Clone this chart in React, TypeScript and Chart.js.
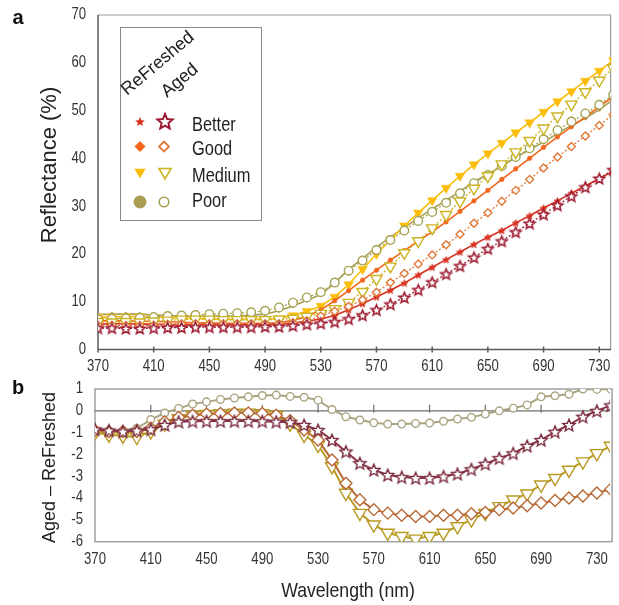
import React, { useEffect, useRef } from "react";
import { Chart, registerables } from "chart.js";

Chart.register(...registerables);

// ---------- data ----------
const wavelengths = [370, 380, 390, 400, 410, 420, 430, 440, 450, 460, 470, 480, 490, 500, 510, 520, 530, 540, 550, 560, 570, 580, 590, 600, 610, 620, 630, 640, 650, 660, 670, 680, 690, 700, 710, 720, 730, 740];

const refreshedBetter = [5.3, 5.4, 5.4, 5.3, 5.3, 5.2, 5.1, 5.2, 5.2, 5.2, 5.2, 5.2, 5.3, 5.3, 5.5, 5.9, 6.4, 7.1, 8.3, 9.6, 11.0, 12.4, 13.9, 15.6, 17.2, 18.8, 20.4, 22.0, 23.5, 24.9, 26.5, 28.0, 29.6, 31.1, 32.7, 34.2, 35.8, 37.3];
const agedBetter = [4.5, 4.5, 4.4, 4.4, 4.5, 4.6, 4.6, 4.7, 4.7, 4.7, 4.7, 4.7, 4.8, 4.8, 5.0, 5.3, 5.5, 5.8, 6.4, 7.2, 8.3, 9.5, 10.9, 12.5, 14.1, 15.8, 17.5, 19.3, 21.1, 22.7, 24.6, 26.4, 28.3, 30.2, 32.1, 34.0, 35.8, 37.6];
const refreshedGood = [6.0, 6.0, 6.0, 5.9, 5.9, 5.8, 5.7, 5.6, 5.6, 5.5, 5.5, 5.5, 5.5, 5.6, 6.1, 6.9, 8.3, 10.2, 12.3, 14.5, 16.6, 18.7, 20.7, 22.7, 24.6, 26.7, 28.9, 31.1, 33.3, 35.6, 37.8, 40.0, 42.3, 44.5, 46.6, 48.7, 50.8, 52.9];
const agedGood = [5.1, 5.1, 5.0, 5.0, 5.1, 5.3, 5.4, 5.4, 5.4, 5.4, 5.4, 5.4, 5.4, 5.4, 5.6, 6.0, 7.0, 8.0, 9.0, 10.4, 12.0, 14.0, 15.9, 17.9, 19.8, 21.9, 24.1, 26.4, 28.6, 31.0, 33.3, 35.6, 38.0, 40.3, 42.5, 44.7, 46.9, 49.2];
const refreshedMedium = [6.8, 6.8, 6.9, 6.9, 6.8, 6.7, 6.6, 6.5, 6.4, 6.3, 6.3, 6.3, 6.3, 6.5, 7.1, 8.0, 9.1, 11.0, 13.6, 16.8, 20.0, 23.0, 25.9, 28.6, 31.2, 33.8, 36.3, 38.7, 41.0, 43.2, 45.4, 47.5, 49.7, 51.9, 54.0, 56.2, 58.3, 60.5];
const agedMedium = [5.8, 5.7, 5.8, 5.7, 5.9, 6.1, 6.3, 6.3, 6.3, 6.2, 6.2, 6.2, 6.2, 6.3, 6.5, 6.9, 7.5, 8.5, 9.8, 12.1, 14.8, 17.4, 20.2, 22.7, 25.4, 28.2, 31.0, 33.7, 36.3, 38.8, 41.3, 43.7, 46.3, 48.8, 51.3, 53.9, 56.3, 58.9];
const refreshedPoor = [7.3, 7.4, 7.4, 7.4, 7.2, 7.1, 7.0, 6.9, 7.0, 7.0, 7.0, 7.2, 7.4, 8.1, 9.1, 10.3, 11.5, 13.9, 16.8, 19.0, 21.4, 23.5, 25.5, 27.5, 29.4, 31.2, 33.1, 35.1, 36.7, 38.4, 40.2, 41.8, 43.4, 45.2, 46.9, 48.4, 50.2, 52.3];
const agedPoor = [6.3, 6.4, 6.5, 6.6, 6.8, 7.0, 7.1, 7.2, 7.4, 7.5, 7.6, 7.8, 8.1, 8.8, 9.8, 10.9, 12.0, 14.0, 16.5, 18.6, 20.8, 22.9, 24.9, 26.9, 28.8, 30.7, 32.7, 34.8, 36.5, 38.4, 40.3, 42.1, 44.0, 45.9, 47.7, 49.4, 51.2, 53.3];

const diffBetter = [-0.85, -0.9, -0.95, -0.9, -0.85, -0.65, -0.5, -0.48, -0.47, -0.47, -0.47, -0.47, -0.48, -0.5, -0.52, -0.65, -0.88, -1.34, -1.87, -2.4, -2.71, -2.94, -3.04, -3.08, -3.08, -3.01, -2.89, -2.68, -2.43, -2.17, -1.95, -1.61, -1.34, -0.96, -0.65, -0.27, 0, 0.25];
const diffGood = [-0.9, -0.95, -0.95, -0.95, -0.8, -0.5, -0.3, -0.2, -0.15, -0.12, -0.1, -0.1, -0.12, -0.2, -0.45, -0.88, -1.34, -2.25, -3.32, -4.08, -4.53, -4.69, -4.79, -4.84, -4.84, -4.79, -4.79, -4.72, -4.66, -4.53, -4.46, -4.35, -4.23, -4.11, -4.0, -3.9, -3.77, -3.59];
const diffMedium = [-1.0, -1.1, -1.15, -1.2, -0.95, -0.6, -0.35, -0.2, -0.15, -0.12, -0.1, -0.1, -0.12, -0.2, -0.6, -1.11, -1.57, -2.55, -3.77, -4.69, -5.22, -5.6, -5.75, -5.87, -5.75, -5.6, -5.3, -4.99, -4.69, -4.38, -4.08, -3.8, -3.39, -3.09, -2.71, -2.33, -1.95, -1.61];
const diffPoor = [-1.0, -0.95, -0.9, -0.8, -0.4, -0.1, 0.11, 0.31, 0.41, 0.52, 0.59, 0.64, 0.7, 0.72, 0.66, 0.62, 0.49, 0.06, -0.27, -0.42, -0.55, -0.61, -0.61, -0.58, -0.56, -0.48, -0.38, -0.3, -0.15, 0, 0.12, 0.27, 0.64, 0.69, 0.76, 1.0, 0.98, 1.0];

const xTicks = [370, 410, 450, 490, 530, 570, 610, 650, 690, 730];
const yTicksTop = [0, 10, 20, 30, 40, 50, 60, 70];
const yTicksBottom = [1, 0, -1, -2, -3, -4, -5, -6];
const legendRows = ["Better", "Good", "Medium", "Poor"];
const legendHeads = ["ReFreshed", "Aged"];
const titleTopY = "Reflectance (%)";
const titleBottomY = "Aged \u2013 ReFreshed";
const titleX = "Wavelength (nm)";

// ---------- styles ----------
const SANS = '"Liberation Sans", Arial, sans-serif';
const NARROW_SCALE = 0.82;

const C = {
  rBetter: "#d8301f",
  aBetter: "#9e1a30",
  rGood: "#f4661c",
  aGood: "#e07838",
  rMedium: "#fbbd0a",
  aMedium: "#ccb322",
  rPoor: "#aa9e55",
  aPoor: "#a6a352",
  bBetter: "#8a3446",
  bBetterPt: "#7a2a3e",
  bGood: "#b86a36",
  bMedium: "#b89a22",
  bPoor: "#aaa480",
};

function narrowText(ctx: CanvasRenderingContext2D, text: string, x: number, y: number, size: number, align: CanvasTextAlign, sx = NARROW_SCALE, color = "#333") {
  ctx.save();
  ctx.translate(x, y);
  ctx.scale(sx, 1);
  ctx.font = `${size}px ${SANS}`;
  ctx.fillStyle = color;
  ctx.textAlign = align;
  ctx.textBaseline = "middle";
  ctx.fillText(text, 0, 0);
  ctx.restore();
}

function starPath(ctx: CanvasRenderingContext2D, cx: number, cy: number, outer: number, ratio: number) {
  const inner = outer * ratio;
  for (let i = 0; i < 10; i++) {
    const r = i % 2 === 0 ? outer : inner;
    const a = -Math.PI / 2 + (i * Math.PI) / 5;
    const px = cx + r * Math.cos(a);
    const py = cy + r * Math.sin(a);
    if (i === 0) ctx.moveTo(px, py);
    else ctx.lineTo(px, py);
  }
  ctx.closePath();
}

function makeStar(outer: number, fill: string, stroke: string, lw: number): HTMLCanvasElement {
  const size = Math.ceil(outer * 2 + lw * 2 + 4);
  const c = document.createElement("canvas");
  c.width = size;
  c.height = size;
  const ctx = c.getContext("2d")!;
  ctx.beginPath();
  starPath(ctx, size / 2, size / 2 + outer * 0.1, outer, 0.45);
  if (fill) {
    ctx.fillStyle = fill;
    ctx.fill();
  }
  if (stroke) {
    ctx.strokeStyle = stroke;
    ctx.lineWidth = lw;
    ctx.lineJoin = "miter";
    ctx.stroke();
  }
  return c;
}

function shape(ctx: CanvasRenderingContext2D, kind: string, x: number, y: number, r: number, fill: string | null, stroke: string | null, lw: number) {
  ctx.beginPath();
  if (kind === "star") starPath(ctx, x, y, r, 0.45);
  else if (kind === "diamond") {
    ctx.moveTo(x, y - r);
    ctx.lineTo(x + r, y);
    ctx.lineTo(x, y + r);
    ctx.lineTo(x - r, y);
    ctx.closePath();
  } else if (kind === "tri") {
    ctx.moveTo(x - r * 0.866, y - r * 0.5);
    ctx.lineTo(x + r * 0.866, y - r * 0.5);
    ctx.lineTo(x, y + r);
    ctx.closePath();
  } else ctx.arc(x, y, r, 0, Math.PI * 2);
  if (fill) {
    ctx.fillStyle = fill;
    ctx.fill();
  }
  if (stroke) {
    ctx.strokeStyle = stroke;
    ctx.lineWidth = lw;
    ctx.stroke();
  }
}

const pts = (arr: number[]) => wavelengths.map((w, i) => ({ x: w, y: arr[i] }));

function drawTickLabels(chart: any, yTicks: number[], xOffset: number) {
  const { ctx, chartArea: a, scales } = chart;
  xTicks.forEach((v) => narrowText(ctx, String(v), scales.x.getPixelForValue(v), a.bottom + xOffset, 16, "center"));
  yTicks.forEach((v) => narrowText(ctx, String(v), a.left - 12, scales.y.getPixelForValue(v), 16, "right"));
}

const topDecor = {
  id: "topDecor",
  beforeDatasetsDraw(chart: any) {
    const { ctx, chartArea: a, scales } = chart;
    ctx.save();
    ctx.strokeStyle = "#9c9c9c";
    ctx.lineWidth = 1.2;
    ctx.beginPath();
    ctx.moveTo(a.left, a.top);
    ctx.lineTo(a.right - 0.5, a.top);
    ctx.lineTo(a.right - 0.5, a.bottom);
    ctx.stroke();
    ctx.strokeStyle = "#5a5a5a";
    ctx.lineWidth = 1.5;
    ctx.beginPath();
    ctx.moveTo(a.left, a.top);
    ctx.lineTo(a.left, a.bottom);
    ctx.lineTo(a.right, a.bottom);
    xTicks.forEach((v) => {
      const x = scales.x.getPixelForValue(v);
      ctx.moveTo(x, a.bottom - 3);
      ctx.lineTo(x, a.bottom + 3);
    });
    ctx.stroke();
    ctx.restore();
  },
  afterDraw(chart: any) {
    const { ctx } = chart;
    ctx.save();
    drawTickLabels(chart, yTicksTop, 17.5);
    // panel letter
    ctx.fillStyle = "#111";
    ctx.font = `bold 20px ${SANS}`;
    ctx.textAlign = "center";
    ctx.textBaseline = "middle";
    ctx.fillText("a", 18, 18);
    // y title
    ctx.save();
    ctx.translate(50, 165);
    ctx.rotate(-Math.PI / 2);
    ctx.font = `22px ${SANS}`;
    ctx.fillStyle = "#222";
    ctx.fillText(titleTopY, 0, 0);
    ctx.restore();
    // legend box
    ctx.fillStyle = "#fff";
    ctx.fillRect(120.5, 27.5, 141, 193);
    ctx.strokeStyle = "#8a8a8a";
    ctx.lineWidth = 1;
    ctx.strokeRect(120.5, 27.5, 141, 193);
    // rotated headers
    ctx.fillStyle = "#222";
    ctx.font = `18px ${SANS}`;
    ctx.textAlign = "left";
    ctx.textBaseline = "alphabetic";
    const heads = [
      [127, 96],
      [167, 98],
    ];
    legendHeads.forEach((t, i) => {
      ctx.save();
      ctx.translate(heads[i][0], heads[i][1]);
      ctx.rotate((-40 * Math.PI) / 180);
      ctx.fillText(t, 0, 0);
      ctx.restore();
    });
    // symbols
    const rowsY = [122, 146.5, 173, 202];
    shape(ctx, "star", 140, rowsY[0], 5, C.rBetter, null, 0);
    shape(ctx, "star", 165, rowsY[0], 8, "#fff", C.aBetter, 2);
    shape(ctx, "diamond", 140, rowsY[1], 5.5, C.rGood, null, 0);
    shape(ctx, "diamond", 164, rowsY[1], 5, "#fff", C.aGood, 1.8);
    shape(ctx, "tri", 140, rowsY[2] - 1, 6.5, C.rMedium, null, 0);
    shape(ctx, "tri", 165, rowsY[2] - 1, 7, "#fff", C.aMedium, 1.6);
    shape(ctx, "circle", 140, rowsY[3], 6.5, C.rPoor, null, 0);
    shape(ctx, "circle", 164, rowsY[3], 4.8, "#fff", C.aPoor, 1.6);
    // row labels
    const textY = [125, 149, 176, 201.5];
    legendRows.forEach((t, i) => narrowText(ctx, t, 192, textY[i], 20, "left", NARROW_SCALE, "#222"));
    ctx.restore();
  },
};

const bottomDecor = {
  id: "bottomDecor",
  beforeDatasetsDraw(chart: any) {
    const { ctx, chartArea: a, scales } = chart;
    ctx.save();
    ctx.strokeStyle = "#a0a0a0";
    ctx.lineWidth = 1.5;
    ctx.strokeRect(a.left, a.top, a.right - a.left + 2, a.bottom - a.top);
    const y0 = scales.y.getPixelForValue(0);
    ctx.strokeStyle = "#6e6e6e";
    ctx.lineWidth = 1.2;
    ctx.beginPath();
    ctx.moveTo(a.left, y0);
    ctx.lineTo(a.right, y0);
    xTicks.slice(1).forEach((v) => {
      const x = scales.x.getPixelForValue(v);
      ctx.moveTo(x, y0 - 6);
      ctx.lineTo(x, y0 + 2);
    });
    ctx.stroke();
    ctx.restore();
  },
  afterDraw(chart: any) {
    const { ctx } = chart;
    ctx.save();
    drawTickLabels(chart, yTicksBottom, 18.3);
    ctx.fillStyle = "#111";
    ctx.font = `bold 20px ${SANS}`;
    ctx.textAlign = "center";
    ctx.textBaseline = "middle";
    ctx.fillText("b", 18, 8);
    ctx.fillStyle = "#222";
    ctx.save();
    ctx.translate(50, 87.5);
    ctx.rotate(-Math.PI / 2);
    ctx.font = `18px ${SANS}`;
    ctx.fillText(titleBottomY, 0, 0);
    ctx.restore();
    narrowText(ctx, titleX, 348, 211, 21, "center", 0.84, "#222");
    ctx.restore();
  },
};

export default function App() {
  const topRef = useRef<HTMLCanvasElement>(null);
  const botRef = useRef<HTMLCanvasElement>(null);

  useEffect(() => {
    const starSmall = makeStar(3.8, C.rBetter, C.rBetter, 0.6);
    const starHollow = makeStar(5.6, "#fff", C.aBetter, 1.6);
    const starBottom = makeStar(6.4, "#fff", C.bBetterPt, 1.4);

    const aged = (data: number[], color: string, style: any, r: number, rot = 0) => ({
      data: pts(data),
      borderColor: color,
      borderWidth: 1.3,
      borderDash: [2, 2],
      pointStyle: style,
      pointRotation: rot,
      pointRadius: r,
      pointBorderColor: color,
      pointBackgroundColor: "#fff",
      pointBorderWidth: 1.4,
    });
    const fresh = (data: number[], color: string, style: any, r: number, rot = 0) => ({
      data: pts(data),
      borderColor: color,
      borderWidth: 1.6,
      pointStyle: style,
      pointRotation: rot,
      pointRadius: r,
      pointBorderColor: color,
      pointBackgroundColor: color,
      pointBorderWidth: 0.5,
    });

    const hiddenTicks = { display: false };
    const noGrid = { display: false, drawTicks: false };

    const top = new Chart(topRef.current!, {
      type: "line",
      data: {
        datasets: [
          aged(agedBetter, C.aBetter, starHollow, 5),
          aged(agedGood, C.aGood, "rectRot", 4),
          aged(agedMedium, C.aMedium, "triangle", 6.5, 180),
          aged(agedPoor, C.aPoor, "circle", 4.3),
          fresh(refreshedBetter, C.rBetter, starSmall, 3),
          fresh(refreshedGood, C.rGood, "circle", 2.3),
          fresh(refreshedMedium, C.rMedium, "triangle", 5.5, 180),
          fresh(refreshedPoor, C.rPoor, "circle", 1.8),
        ] as any,
      },
      options: {
        responsive: false,
        animation: false,
        devicePixelRatio: 1,
        layout: { padding: { left: 0, right: 1, top: 15, bottom: 0 } },
        plugins: { legend: { display: false }, tooltip: { enabled: false } },
        scales: {
          x: {
            type: "linear",
            min: 370,
            max: 738.5,
            afterBuildTicks: (s: any) => {
              s.ticks = xTicks.map((v) => ({ value: v }));
            },
            afterFit: (s: any) => {
              s.height = 30.5;
              s.paddingLeft = 0;
              s.paddingRight = 0;
            },
            grid: noGrid,
            border: { display: false },
            ticks: hiddenTicks,
          },
          y: {
            type: "linear",
            min: 0,
            max: 70,
            afterBuildTicks: (s: any) => {
              s.ticks = yTicksTop.map((v) => ({ value: v }));
            },
            afterFit: (s: any) => {
              s.width = 98;
              s.paddingTop = 0;
              s.paddingBottom = 0;
            },
            grid: noGrid,
            border: { display: false },
            ticks: hiddenTicks,
          },
        },
      } as any,
      plugins: [topDecor],
    });

    const bline = (data: number[], color: string, ptColor: string, style: any, r: number, rot = 0) => ({
      data: pts(data),
      borderColor: color,
      borderWidth: 2,
      pointStyle: style,
      pointRotation: rot,
      pointRadius: r,
      pointBorderColor: ptColor,
      pointBackgroundColor: "#fff",
      pointBorderWidth: 1.4,
    });

    const bot = new Chart(botRef.current!, {
      type: "line",
      data: {
        datasets: [
          bline(diffBetter, C.bBetter, C.bBetterPt, starBottom, 6),
          bline(diffGood, C.bGood, C.bGood, "rectRot", 6),
          bline(diffMedium, C.bMedium, C.bMedium, "triangle", 7.5, 180),
          bline(diffPoor, C.bPoor, C.bPoor, "circle", 3.8),
        ] as any,
      },
      options: {
        responsive: false,
        animation: false,
        devicePixelRatio: 1,
        layout: { padding: { left: 0, right: 0, top: 9, bottom: 0 } },
        plugins: { legend: { display: false }, tooltip: { enabled: false } },
        scales: {
          x: {
            type: "linear",
            min: 370,
            max: 739.5,
            afterBuildTicks: (s: any) => {
              s.ticks = xTicks.map((v) => ({ value: v }));
            },
            afterFit: (s: any) => {
              s.height = 63.3;
              s.paddingLeft = 0;
              s.paddingRight = 0;
            },
            grid: noGrid,
            border: { display: false },
            ticks: hiddenTicks,
          },
          y: {
            type: "linear",
            min: -6,
            max: 1,
            afterBuildTicks: (s: any) => {
              s.ticks = yTicksBottom.map((v) => ({ value: v }));
            },
            afterFit: (s: any) => {
              s.width = 95;
              s.paddingTop = 0;
              s.paddingBottom = 0;
            },
            grid: noGrid,
            border: { display: false },
            ticks: hiddenTicks,
          },
        },
      } as any,
      plugins: [bottomDecor],
    });

    return () => {
      top.destroy();
      bot.destroy();
    };
  }, []);

  return (
    <div style={{ position: "absolute", left: 0, top: 0, width: 619, height: 605, overflow: "hidden", background: "#fff" }}>
      <canvas ref={topRef} width={619} height={380} style={{ position: "absolute", left: 0, top: 0, width: 619, height: 380 }} />
      <canvas ref={botRef} width={619} height={225} style={{ position: "absolute", left: 0, top: 380, width: 619, height: 225 }} />
    </div>
  );
}
